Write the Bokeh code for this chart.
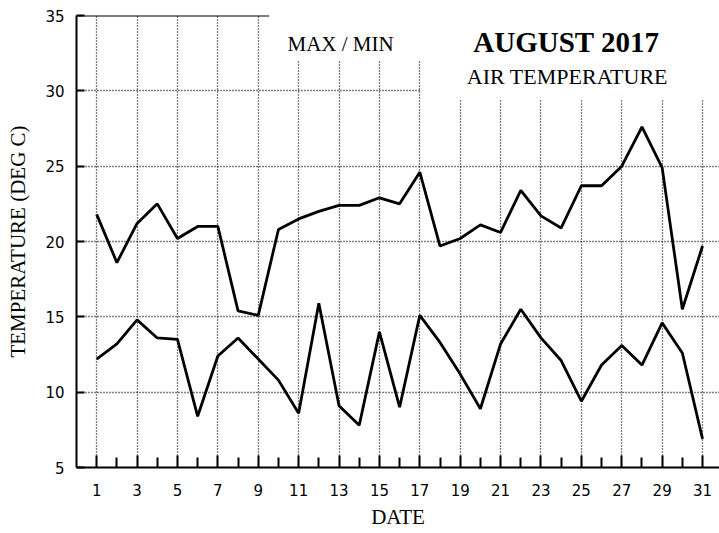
from bokeh.plotting import figure
from bokeh.models import Range1d, FixedTicker, Label
from bokeh.embed import file_html
from bokeh.resources import INLINE

# Daily air temperature, August 2017 (deg C)
days = list(range(1, 32))
t_max = [21.8, 18.6, 21.2, 22.5, 20.2, 21.0, 21.0, 15.4, 15.1, 20.8,
         21.5, 22.0, 22.4, 22.4, 22.9, 22.5, 24.6, 19.7, 20.2, 21.1,
         20.6, 23.4, 21.7, 20.9, 23.7, 23.7, 25.0, 27.6, 24.9, 15.5, 19.7]
t_min = [12.2, 13.2, 14.8, 13.6, 13.5, 8.4, 12.4, 13.6, 12.2, 10.8,
         8.6, 15.9, 9.1, 7.8, 14.0, 9.0, 15.1, 13.3, 11.2, 8.9,
         13.2, 15.5, 13.6, 12.1, 9.4, 11.8, 13.1, 11.8, 14.6, 12.6, 6.9]

y_ticks = [5, 10, 15, 20, 25, 30, 35]
y_grid = [10, 15, 20, 25, 30]
x_major = [d for d in days if d % 2 == 1]
x_minor = [d for d in days if d % 2 == 0]

SANS = "DejaVu Sans"
SERIF = "Liberation Serif"

p = figure(width=719, height=533, output_backend="svg", toolbar_location=None,
           x_range=Range1d(0, 31.84), y_range=Range1d(5, 35),
           min_border_left=76, min_border_right=0,
           min_border_top=15, min_border_bottom=66)
p.outline_line_color = None
p.background_fill_color = "white"
p.border_fill_color = "white"

# axes
p.xaxis.ticker = FixedTicker(ticks=x_major, minor_ticks=x_minor)
p.yaxis.ticker = FixedTicker(ticks=y_ticks)
for ax in (p.xaxis[0], p.yaxis[0]):
    ax.axis_line_width = 2
    ax.axis_line_color = "black"
    ax.major_tick_out = 0
    ax.minor_tick_out = 0
    ax.major_tick_line_color = "black"
    ax.major_tick_line_width = 2
    ax.minor_tick_line_color = "black"
    ax.minor_tick_line_width = 2
    ax.major_label_text_font = SANS
    ax.major_label_text_font_size = "15px"
    ax.major_label_text_color = "black"
    ax.axis_label_text_font = SERIF
    ax.axis_label_text_font_size = "21px"
    ax.axis_label_text_font_style = "normal"
    ax.axis_label_text_color = "black"

p.xaxis.major_tick_in = 12
p.xaxis.minor_tick_in = 10
p.xaxis.major_label_standoff = 16
p.xaxis.axis_label = "DATE"
p.xaxis.axis_label_standoff = 6

p.yaxis.major_tick_in = 8
p.yaxis.minor_tick_line_color = None
p.yaxis.major_label_standoff = 12
p.yaxis.axis_label = "TEMPERATURE (DEG C)"
p.yaxis.axis_label_standoff = 12

# dotted grid
p.xgrid.ticker = FixedTicker(ticks=x_major)
p.ygrid.ticker = FixedTicker(ticks=y_grid)
for g in (p.xgrid[0], p.ygrid[0]):
    g.grid_line_color = "black"
    g.grid_line_width = 1.3
    g.grid_line_dash = "1 2"

# blank panel behind the heading texts
p.quad(left=[9.54, 17.07], right=[32, 32], bottom=[32.0, 29.4], top=[36, 36],
       fill_color="white", line_color=None)

# top border, only up to the heading panel
p.segment(x0=[0], y0=[35], x1=[9.54], y1=[35], line_color="black", line_width=2)

# temperature series
p.line(days, t_max, line_color="black", line_width=2.8)
p.line(days, t_min, line_color="black", line_width=2.8)

# headings
p.add_layout(Label(x=10.45, y=33.13, text="MAX / MIN", text_font=SERIF,
                   text_font_size="21px", text_color="black",
                   text_align="left", text_baseline="alphabetic"))
p.add_layout(Label(x=19.65, y=33.27, text="AUGUST 2017", text_font=SERIF,
                   text_font_size="29px", text_font_style="bold",
                   text_color="black", text_align="left",
                   text_baseline="alphabetic"))
p.add_layout(Label(x=19.33, y=30.95, text="AIR TEMPERATURE", text_font=SERIF,
                   text_font_size="22px", text_color="black",
                   text_align="left", text_baseline="alphabetic"))

open("out.html", "w").write(file_html(p, INLINE))
